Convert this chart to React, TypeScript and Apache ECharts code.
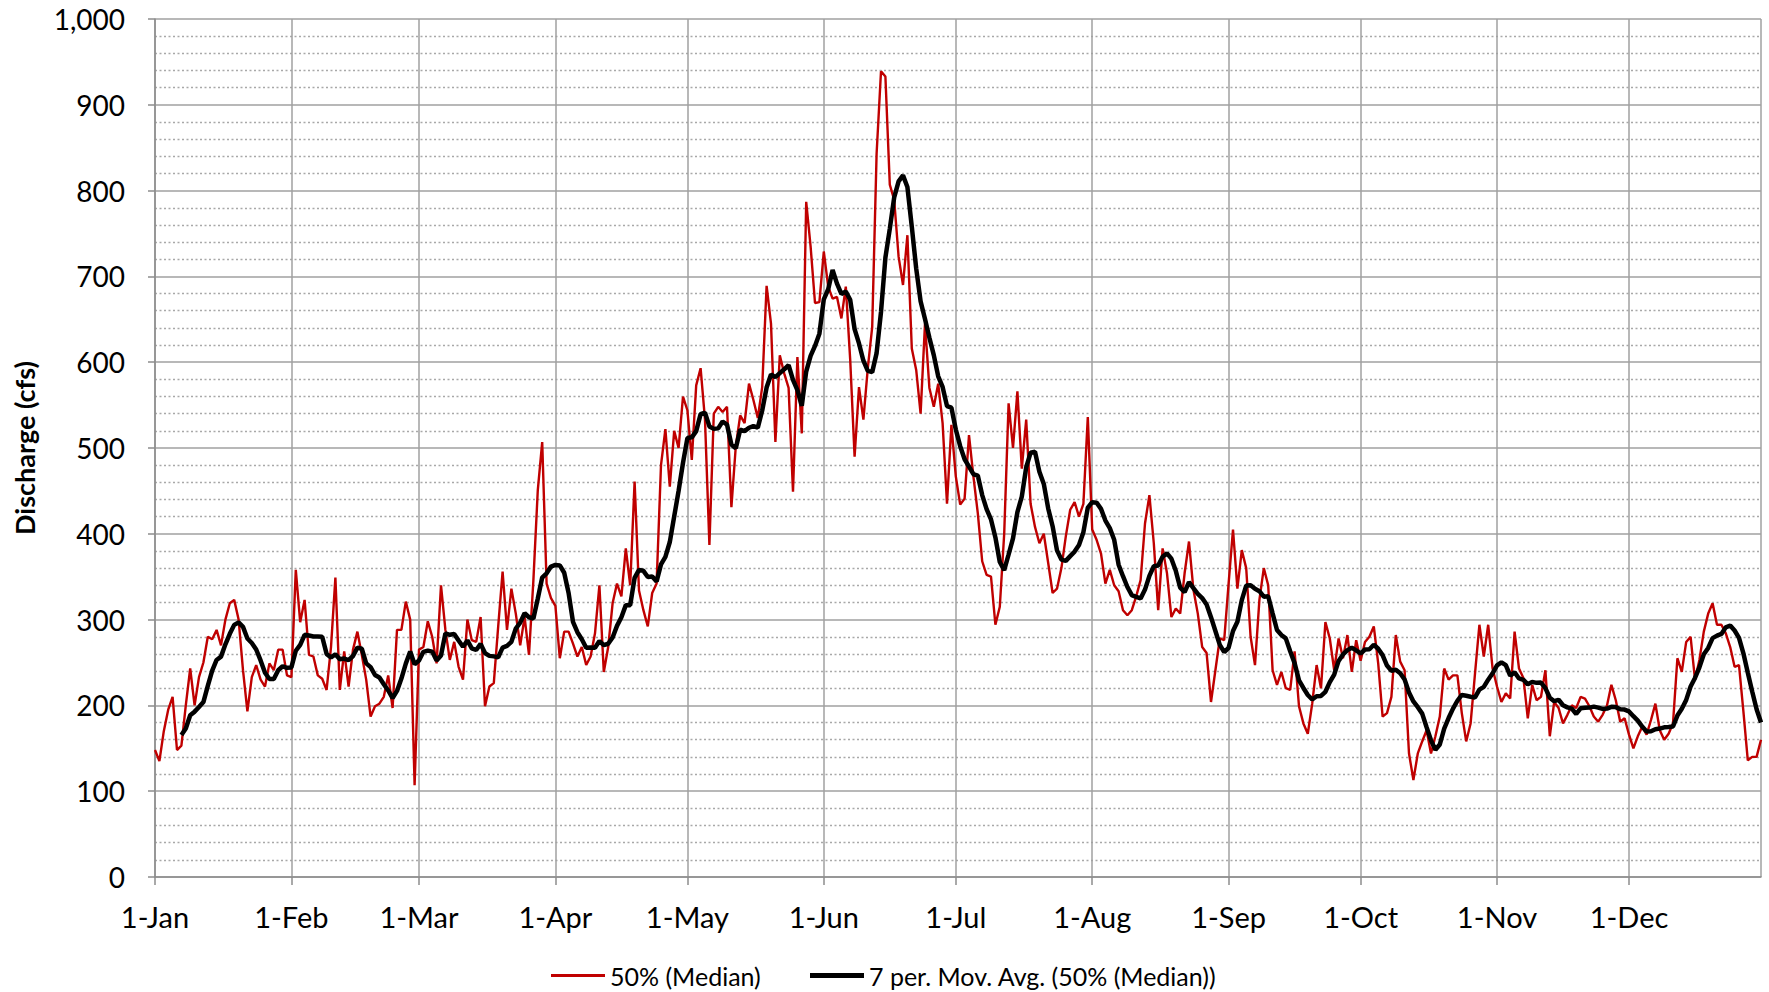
import React, { useEffect, useRef } from "react";
import * as echarts from "echarts";

// Month names and day counts (leap year: 29-Feb is on the axis)
const monthNames = ["Jan", "Feb", "Mar", "Apr", "May", "Jun", "Jul", "Aug", "Sep", "Oct", "Nov", "Dec"];
const daysInMonth = [31, 29, 31, 30, 31, 30, 31, 31, 30, 31, 30, 31];

// Daily 50% (median) discharge, cfs, month by month
const janMedian = [148, 135, 170, 195, 210, 148, 153, 200, 243, 200, 233, 250, 280, 277, 288, 270, 300, 319, 323, 300, 241, 193, 233, 247, 230, 222, 249, 241, 265, 265, 235];
const febMedian = [233, 358, 297, 323, 259, 257, 235, 231, 218, 268, 349, 218, 263, 222, 265, 286, 259, 230, 187, 199, 202, 210, 235, 197, 288, 288, 321, 300, 107];
const marMedian = [265, 268, 298, 280, 249, 340, 288, 253, 274, 245, 230, 300, 276, 274, 303, 199, 222, 226, 292, 356, 288, 336, 307, 270, 303, 259, 346, 451, 507, 342, 325];
const aprMedian = [316, 255, 286, 286, 272, 257, 268, 247, 257, 284, 340, 239, 268, 319, 342, 327, 383, 340, 461, 334, 311, 292, 331, 342, 480, 522, 455, 520, 500, 560];
const mayMedian = [544, 486, 573, 593, 533, 387, 540, 548, 542, 548, 431, 502, 538, 529, 575, 556, 535, 571, 689, 645, 507, 608, 587, 570, 449, 606, 517, 787, 735, 669, 670];
const junMedian = [729, 688, 674, 676, 651, 688, 603, 490, 571, 533, 593, 641, 843, 939, 933, 807, 789, 723, 690, 748, 616, 591, 540, 645, 570, 548, 575, 529, 435, 527];
const julMedian = [467, 434, 441, 515, 467, 424, 368, 352, 350, 294, 315, 400, 552, 500, 566, 476, 533, 435, 408, 389, 400, 366, 331, 336, 360, 397, 428, 437, 420, 435, 536];
const augMedian = [405, 393, 377, 342, 358, 340, 333, 311, 305, 311, 327, 346, 412, 445, 389, 311, 383, 354, 303, 313, 307, 354, 391, 335, 307, 268, 261, 204, 241, 278, 276];
const sepMedian = [342, 405, 336, 381, 360, 280, 247, 323, 360, 340, 241, 224, 239, 220, 218, 263, 199, 179, 167, 202, 247, 220, 297, 278, 241, 278, 255, 282, 239, 276];
const octMedian = [252, 274, 280, 292, 249, 187, 191, 210, 282, 251, 241, 144, 113, 144, 158, 171, 144, 164, 187, 243, 230, 235, 235, 191, 158, 179, 237, 294, 257, 294, 243];
const novMedian = [222, 204, 214, 208, 286, 243, 232, 185, 224, 206, 210, 241, 164, 204, 197, 179, 189, 200, 197, 210, 208, 199, 187, 181, 189, 200, 224, 206, 181, 185];
const decMedian = [166, 150, 164, 175, 166, 183, 202, 171, 160, 167, 179, 255, 239, 274, 280, 230, 253, 286, 307, 319, 294, 294, 284, 268, 245, 247, 193, 136, 140, 140, 160];

// Y-axis ticks
const yMin = 0;
const yMax = 1000;
const yInterval = 100;

const medianName = "50% (Median)";
const movAvgName = "7 per. Mov. Avg. (50% (Median))";
const movAvgPeriod = 7;

const categories: string[] = monthNames.flatMap((m, i) =>
  Array.from({ length: daysInMonth[i] }, (_, d) => `${d + 1}-${m}`)
);

const median: number[] = [
  ...janMedian, ...febMedian, ...marMedian, ...aprMedian, ...mayMedian, ...junMedian,
  ...julMedian, ...augMedian, ...sepMedian, ...octMedian, ...novMedian, ...decMedian,
];

// Trailing moving average trendline (as Excel draws it)
const movingAvg: (number | null)[] = median.map((_, i) => {
  if (i < movAvgPeriod - 1) return null;
  let s = 0;
  for (let k = i - movAvgPeriod + 1; k <= i; k++) s += median[k];
  return s / movAvgPeriod;
});

const isMonthStart = (i: number) => categories[i] !== undefined && categories[i].startsWith("1-");
const lastIndex = categories.length - 1;

const FONT = "Lato, 'Open Sans', sans-serif";
const RED = "#C00000";
const BLACK = "#000000";

export default function App() {
  const ref = useRef<HTMLDivElement>(null);

  useEffect(() => {
    if (!ref.current) return;
    const chart = echarts.init(ref.current, undefined, { renderer: "svg" });
    const legendText = { fontFamily: FONT, fontSize: 25, color: "#000" };
    chart.setOption({
      animation: false,
      backgroundColor: "#ffffff",
      grid: { left: 155, right: 8, top: 19, bottom: 115, containLabel: false },
      legend: [
        {
          top: 963,
          left: 551,
          padding: 0,
          icon: "rect",
          itemWidth: 54,
          itemHeight: 3,
          itemGap: 0,
          textStyle: legendText,
          data: [medianName],
        },
        {
          top: 963,
          left: 810,
          padding: 0,
          icon: "rect",
          itemWidth: 54,
          itemHeight: 5,
          itemGap: 0,
          textStyle: legendText,
          data: [movAvgName],
        },
      ],
      xAxis: {
        type: "category",
        data: categories,
        boundaryGap: false,
        axisLine: { show: true, lineStyle: { color: "#8c8c8c", width: 1.5 } },
        axisTick: {
          show: true,
          interval: (i: number) => isMonthStart(i),
          length: 8,
          lineStyle: { color: "#8c8c8c", width: 1.5 },
        },
        axisLabel: {
          interval: (i: number) => isMonthStart(i),
          margin: 25,
          fontSize: 29,
          fontFamily: FONT,
          color: "#000",
        },
        splitLine: {
          show: true,
          interval: (i: number) => isMonthStart(i) || i === lastIndex,
          lineStyle: { color: "#a0a0a0", width: 1.5 },
        },
      },
      yAxis: {
        type: "value",
        min: yMin,
        max: yMax,
        interval: yInterval,
        name: "Discharge (cfs)",
        nameLocation: "middle",
        nameGap: 117,
        nameTextStyle: { fontFamily: FONT, fontSize: 27, fontWeight: "bold", color: "#000" },
        axisLine: { show: true, lineStyle: { color: "#8c8c8c", width: 1.5 } },
        axisTick: { show: true, length: 7, lineStyle: { color: "#8c8c8c", width: 1.5 } },
        axisLabel: {
          margin: 30,
          fontSize: 28,
          fontFamily: FONT,
          color: "#000",
          formatter: (v: number) => v.toLocaleString("en-US"),
        },
        splitLine: { show: true, lineStyle: { color: "#a0a0a0", width: 1.5 } },
        minorTick: { show: false, splitNumber: 5 },
        minorSplitLine: { show: true, lineStyle: { color: "#a8a8a8", width: 1.3, type: [2, 2.5] } },
      },
      series: [
        {
          name: medianName,
          type: "line",
          data: median,
          symbol: "none",
          lineStyle: { color: RED, width: 2.4 },
          itemStyle: { color: RED },
          z: 2,
        },
        {
          name: movAvgName,
          type: "line",
          data: movingAvg,
          symbol: "none",
          connectNulls: false,
          lineStyle: { color: BLACK, width: 4.5 },
          itemStyle: { color: BLACK },
          z: 3,
        },
      ],
    });
    return () => chart.dispose();
  }, []);

  return (
    <div
      ref={ref}
      style={{ position: "fixed", left: 0, top: 0, width: "1769px", height: "992px", background: "#fff" }}
    />
  );
}
